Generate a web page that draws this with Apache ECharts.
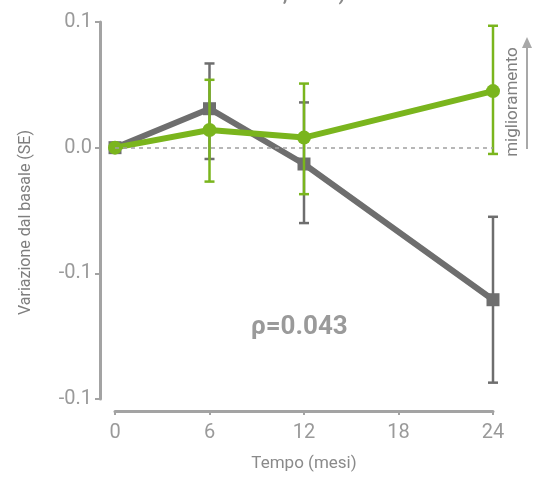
<!DOCTYPE html>
<html>
<head>
<meta charset="utf-8">
<script src="https://cdn.jsdelivr.net/npm/echarts@6/dist/echarts.min.js"></script>
<style>
    html, body { margin: 0; padding: 0; background: #fff; }
    #chart { width: 533px; height: 477px; }
</style>
</head>
<body>
<div id="chart"></div>
<script>
// months on the x axis
const months = [0, 6, 12, 24];
// tick labels as printed on the original (last one repeats -0.1)
const yTickLabels = ['-0.1', '-0.1', '0.0', '0.1'];

// grey series (squares)
const greyMean = [0, 0.031, -0.013, -0.121];
const greyLow = [null, -0.009, -0.060, -0.187];
const greyHigh = [null, 0.067, 0.036, -0.055];

// green series (circles)
const greenMean = [0, 0.014, 0.008, 0.045];
const greenLow = [null, -0.027, -0.037, -0.005];
const greenHigh = [null, 0.054, 0.051, 0.097];

const GREY = '#6e6e6e';
const GREEN = '#7ab51d';
const AXIS = '#a3a3a3';
const TEXT = '#9a9a9a';
const FONT = 'Roboto';

function pairs(ys) {
    return months.map((m, i) => [m, ys[i]]);
}
function errData(low, high) {
    const out = [];
    months.forEach((m, i) => {
        if (low[i] !== null) out.push([m, low[i], high[i]]);
    });
    return out;
}
function errorBars(color, width, cap) {
    return function (params, api) {
        const lo = api.coord([api.value(0), api.value(1)]);
        const hi = api.coord([api.value(0), api.value(2)]);
        const style = { stroke: color, lineWidth: width };
        return {
            type: 'group',
            children: [
                { type: 'line', shape: { x1: lo[0], y1: lo[1], x2: hi[0], y2: hi[1] }, style: style },
                { type: 'line', shape: { x1: lo[0] - cap, y1: lo[1], x2: lo[0] + cap, y2: lo[1] }, style: style },
                { type: 'line', shape: { x1: hi[0] - cap, y1: hi[1], x2: hi[0] + cap, y2: hi[1] }, style: style }
            ]
        };
    };
}

const myChart = echarts.init(document.getElementById('chart'));
const option = {
    animation: false,
    textStyle: { fontFamily: FONT },
    title: {
        text: 'Placebo, 2254)',
        left: 205,
        top: -20,
        textStyle: { fontSize: 20, fontWeight: 'bold', color: '#8a8a8a', fontFamily: FONT }
    },
    grid: { left: 115, right: 40, top: 22, bottom: 76 },
    xAxis: {
        type: 'value',
        min: 0,
        max: 24,
        interval: 6,
        offset: 12,
        name: 'Tempo (mesi)',
        nameLocation: 'middle',
        nameGap: 44,
        nameTextStyle: { fontSize: 17, color: '#8a8a8a' },
        axisLine: { onZero: false, lineStyle: { color: AXIS, width: 3 } },
        axisTick: { show: true, length: 4, lineStyle: { color: AXIS, width: 2 } },
        axisLabel: { fontSize: 20, color: TEXT, margin: 12 },
        splitLine: { show: false }
    },
    yAxis: {
        type: 'value',
        min: -0.2,
        max: 0.1,
        interval: 0.1,
        offset: 15,
        name: 'Variazione dal basale (SE)',
        nameLocation: 'middle',
        nameGap: 66,
        nameTextStyle: { fontSize: 16, color: '#7e7e7e', padding: [0, 24, 0, 0] },
        axisLine: { show: true, onZero: false, lineStyle: { color: AXIS, width: 3 } },
        axisTick: { show: true, length: 5, lineStyle: { color: AXIS, width: 2 } },
        axisLabel: {
            fontSize: 20,
            color: TEXT,
            margin: 8,
            formatter: v => yTickLabels[Math.round((v + 0.2) / 0.1)]
        },
        splitLine: { show: false }
    },
    series: [
        {
            name: 'grey',
            type: 'line',
            data: pairs(greyMean),
            symbol: 'rect',
            symbolSize: 13,
            lineStyle: { color: GREY, width: 6 },
            itemStyle: { color: GREY },
            z: 2,
            markLine: {
                silent: true,
                symbol: 'none',
                label: { show: false },
                lineStyle: { color: '#a0a0a0', type: [4, 4], width: 1.5 },
                data: [{ yAxis: 0 }]
            }
        },
        {
            name: 'greyErr',
            type: 'custom',
            renderItem: errorBars(GREY, 2.5, 5),
            data: errData(greyLow, greyHigh),
            z: 1
        },
        {
            name: 'greenErr',
            type: 'custom',
            renderItem: errorBars(GREEN, 2.5, 5),
            data: errData(greenLow, greenHigh),
            z: 3
        },
        {
            name: 'green',
            type: 'line',
            data: pairs(greenMean),
            symbol: 'circle',
            symbolSize: 14,
            lineStyle: { color: GREEN, width: 6 },
            itemStyle: { color: GREEN },
            z: 4
        }
    ],
    graphic: [
        {
            type: 'text',
            left: 251,
            top: 314,
            style: { text: 'ρ=0.043', fontSize: 26, fontWeight: 'bold', fill: TEXT, fontFamily: FONT }
        },
        {
            type: 'text',
            x: 513,
            y: 102,
            rotation: Math.PI / 2,
            style: {
                text: 'miglioramento',
                fontSize: 17,
                fill: '#808080',
                fontFamily: FONT,
                align: 'center',
                verticalAlign: 'middle'
            }
        },
        {
            type: 'line',
            shape: { x1: 527, y1: 149, x2: 527, y2: 46 },
            style: { stroke: '#a8a8a8', lineWidth: 2 }
        },
        {
            type: 'polygon',
            shape: { points: [[522, 48], [532, 48], [527, 37]] },
            style: { fill: '#a8a8a8' }
        }
    ]
};
myChart.setOption(option);
</script>
</body>
</html>
